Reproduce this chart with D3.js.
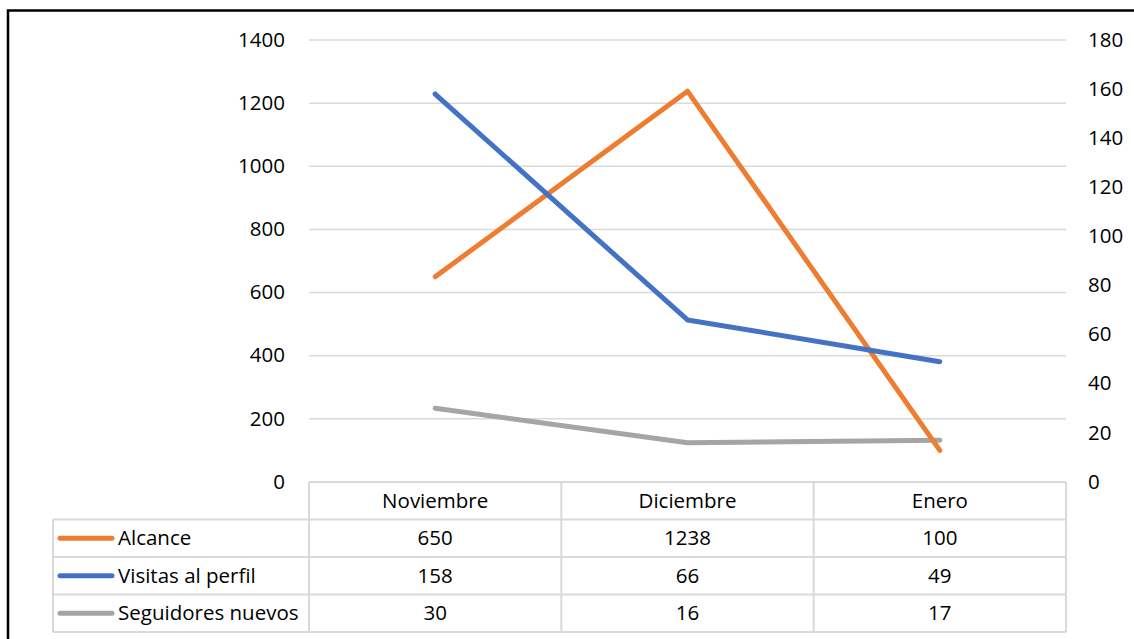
<!DOCTYPE html>
<html>
<head>
<meta charset="utf-8">
<script src="https://cdn.jsdelivr.net/npm/d3@7"></script>
<style>
  body { margin: 0; background: #fff; }
  text { font-family: "Open Sans", sans-serif; font-size: 20.5px; fill: #000; }
</style>
</head>
<body>
<div id="mainDiv"></div>
<script>
// data
var months = ["Noviembre", "Diciembre", "Enero"];
var alcance = [650, 1238, 100];
var visitas = [158, 66, 49];
var seguidores = [30, 16, 17];
var leftTicks = [0, 200, 400, 600, 800, 1000, 1200, 1400];
var rightTicks = [0, 20, 40, 60, 80, 100, 120, 140, 160, 180];

var series = [
    { name: "Alcance", values: alcance, axis: "left", color: "#ED7D31" },
    { name: "Visitas al perfil", values: visitas, axis: "right", color: "#4472C4" },
    { name: "Seguidores nuevos", values: seguidores, axis: "right", color: "#A5A5A5" }
];

var width = 1134, height = 639;
var plotLeft = 309, plotRight = 1066, plotTop = 40, plotBottom = 482;
var rowH = 37.5, legendLeft = 53;

var svg = d3.select("#mainDiv").append("svg")
    .attr("width", width).attr("height", height);

// outer chart border
svg.append("rect")
    .attr("x", 8).attr("y", 10.5)
    .attr("width", 1140).attr("height", 640)
    .attr("fill", "none").attr("stroke", "#000").attr("stroke-width", 2.5);

var x = d3.scaleBand().domain(months).range([plotLeft, plotRight]);
var yLeft = d3.scaleLinear().domain([0, 1400]).range([plotBottom, plotTop]);
var yRight = d3.scaleLinear().domain([0, 180]).range([plotBottom, plotTop]);

// gridlines
svg.append("g").selectAll("line").data(leftTicks.slice(1)).join("line")
    .attr("x1", plotLeft).attr("x2", plotRight)
    .attr("y1", function(d) { return yLeft(d); })
    .attr("y2", function(d) { return yLeft(d); })
    .attr("stroke", "#D9D9D9").attr("stroke-width", 1.5);

// left axis
var leftAxis = svg.append("g")
    .attr("transform", "translate(" + (plotLeft - 24) + ",0)")
    .call(d3.axisLeft(yLeft).tickValues(leftTicks).tickFormat(d3.format("d")).tickSize(0).tickPadding(0));
leftAxis.select(".domain").remove();
leftAxis.attr("font-family", null).attr("font-size", null);
leftAxis.selectAll("text").attr("dy", "0.3em");

// right axis
var rightAxis = svg.append("g")
    .attr("transform", "translate(" + (plotRight + 22) + ",0)")
    .call(d3.axisRight(yRight).tickValues(rightTicks).tickSize(0).tickPadding(0));
rightAxis.select(".domain").remove();
rightAxis.attr("font-family", null).attr("font-size", null);
rightAxis.selectAll("text").attr("dy", "0.3em");

// data table
var table = svg.append("g");
var gridColor = "#D9D9D9";
table.append("line")
    .attr("x1", plotLeft).attr("x2", plotRight)
    .attr("y1", plotBottom).attr("y2", plotBottom)
    .attr("stroke", gridColor).attr("stroke-width", 2);
for (var r = 1; r <= series.length + 1; r++) {
    table.append("line")
        .attr("x1", legendLeft).attr("x2", plotRight)
        .attr("y1", plotBottom + r * rowH).attr("y2", plotBottom + r * rowH)
        .attr("stroke", gridColor).attr("stroke-width", 2);
}
var colEdges = [plotLeft].concat(months.map(function(m) { return x(m) + x.bandwidth(); }));
colEdges.forEach(function(cx) {
    table.append("line")
        .attr("x1", cx).attr("x2", cx)
        .attr("y1", plotBottom).attr("y2", plotBottom + (series.length + 1) * rowH)
        .attr("stroke", gridColor).attr("stroke-width", 2);
});
table.append("line")
    .attr("x1", legendLeft).attr("x2", legendLeft)
    .attr("y1", plotBottom + rowH).attr("y2", plotBottom + (series.length + 1) * rowH)
    .attr("stroke", gridColor).attr("stroke-width", 2);

table.selectAll(".hdr").data(months).join("text")
    .attr("class", "hdr")
    .attr("x", function(d) { return x(d) + x.bandwidth() / 2; })
    .attr("y", plotBottom + rowH / 2)
    .attr("dy", "0.35em")
    .attr("text-anchor", "middle")
    .text(function(d) { return d; });

series.forEach(function(s, i) {
    var cy = plotBottom + (i + 1.5) * rowH;
    table.append("line")
        .attr("x1", legendLeft + 7).attr("x2", legendLeft + 59)
        .attr("y1", cy).attr("y2", cy)
        .attr("stroke", s.color).attr("stroke-width", 5)
        .attr("stroke-linecap", "round");
    table.append("text")
        .attr("x", legendLeft + 65).attr("y", cy).attr("dy", "0.35em")
        .text(s.name);
    s.values.forEach(function(v, j) {
        table.append("text")
            .attr("x", x(months[j]) + x.bandwidth() / 2)
            .attr("y", cy).attr("dy", "0.35em")
            .attr("text-anchor", "middle")
            .text(v);
    });
});

// lines (orange beneath blue at the crossing, like the reference)
var drawOrder = [2, 0, 1];
drawOrder.forEach(function(idx) {
    var s = series[idx];
    var y = s.axis === "left" ? yLeft : yRight;
    var line = d3.line()
        .x(function(d, j) { return x(months[j]) + x.bandwidth() / 2; })
        .y(function(d) { return y(d); });
    svg.append("path")
        .datum(s.values)
        .attr("d", line)
        .attr("fill", "none")
        .attr("stroke", s.color)
        .attr("stroke-width", 5)
        .attr("stroke-linecap", "round")
        .attr("stroke-linejoin", "round");
});
</script>
</body>
</html>
